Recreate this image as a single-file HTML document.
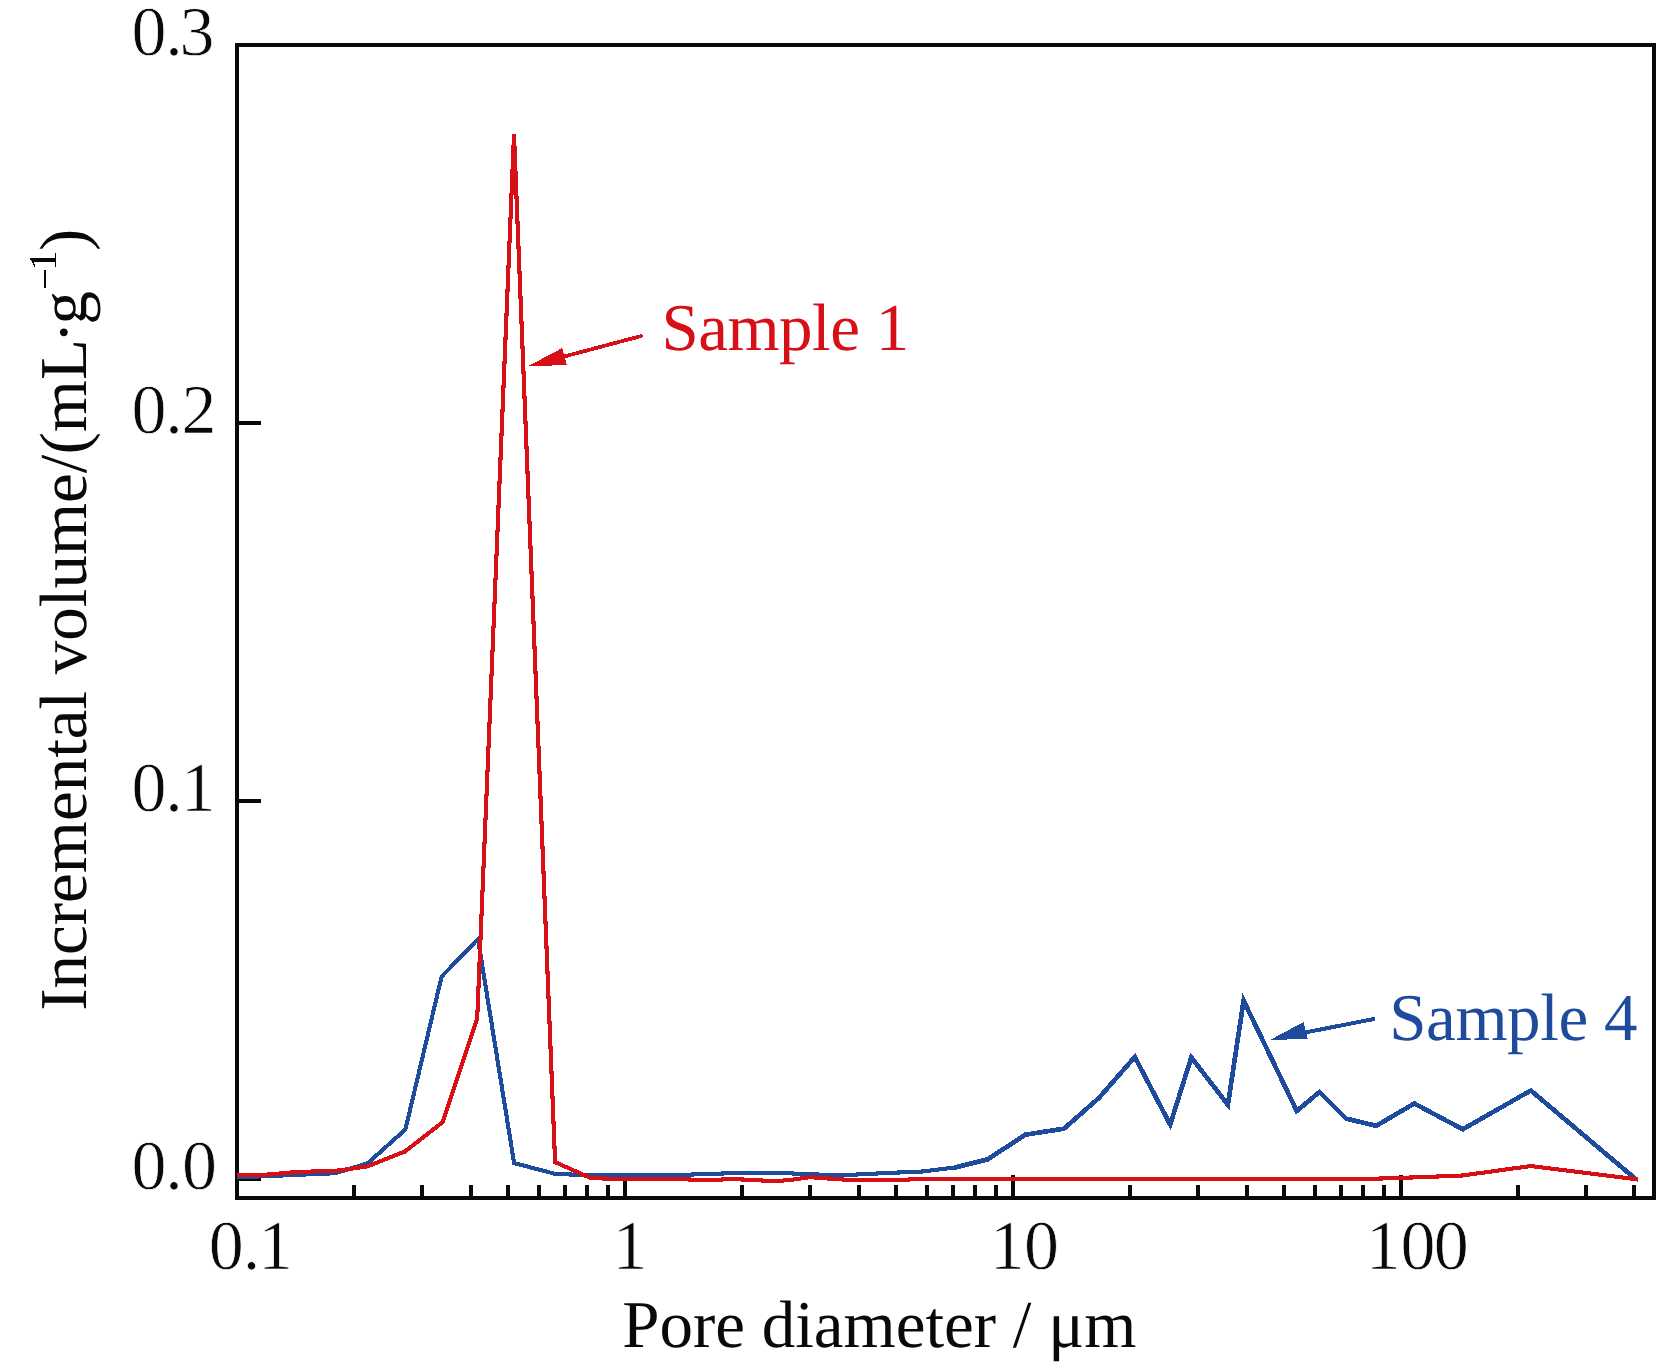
<!DOCTYPE html>
<html>
<head>
<meta charset="utf-8">
<title>Pore diameter distribution</title>
<style>
  html, body { margin: 0; padding: 0; background: #ffffff; }
  body { width: 1657px; height: 1368px; overflow: hidden; }
  svg { display: block; }
  text { font-family: "Liberation Serif", serif; font-size: 67px; fill: #080a0a; text-rendering: geometricPrecision; }
  .num text { font-size: 70px; stroke: #ffffff; stroke-width: 0.7px; }
  .tick { stroke: #080a0a; stroke-width: 4; fill: none; }
  .red { stroke: #d71018; }
  .blue { stroke: #1f4b9c; }
  .curve { fill: none; stroke-width: 4.1; stroke-linejoin: miter; stroke-miterlimit: 12; stroke-linecap: butt; }
</style>
</head>
<body>
<svg width="1657" height="1368" viewBox="0 0 1657 1368" shape-rendering="crispEdges">
  <rect x="0" y="0" width="1657" height="1368" fill="#ffffff"/>

  <!-- y-axis major ticks -->
  <g class="tick">
    <line x1="237" y1="423" x2="261" y2="423"/>
    <line x1="237" y1="801" x2="261" y2="801"/>
    <line x1="237" y1="1179" x2="261" y2="1179"/>
  </g>

  <!-- x-axis ticks (log scale) -->
  <g class="tick" id="xticks">
    <path d="M354 1185V1198 M422 1185V1198 M471 1185V1198 M508 1185V1198 M539 1185V1198 M565 1185V1198 M587 1185V1198 M608 1185V1198 M742 1185V1198 M810 1185V1198 M859 1185V1198 M896 1185V1198 M927 1185V1198 M953 1185V1198 M975 1185V1198 M996 1185V1198 M1130 1185V1198 M1198 1185V1198 M1247 1185V1198 M1284 1185V1198 M1315 1185V1198 M1341 1185V1198 M1363 1185V1198 M1384 1185V1198 M1518 1185V1198 M1586 1185V1198 M1634 1185V1198 M625 1175V1198 M1013 1175V1198 M1401 1175V1198"/>
  </g>

  <!-- frame -->
  <rect x="237" y="45" width="1417" height="1153" fill="none" stroke="#080a0a" stroke-width="4"/>

  <!-- Sample 4 (blue) -->
  <polyline class="curve blue" points="237,1177.4 335.5,1173.2 367.6,1163.3 405.4,1129.5 441.6,976.6 478,939 514.1,1163.1 555.7,1174 570.4,1174.5 585,1175 678,1175 740,1172.9 780,1172.9 806,1174.1 841,1175.3 887,1173 923,1171.5 955,1167.5 987.8,1159.3"/>
  <polyline class="curve blue" style="stroke-width:4.7" points="955,1167.5 987.8,1159.3 1025.3,1134.7 1064,1128.7 1099,1097.9 1134.8,1057 1170.2,1124.6 1191.3,1057.4 1227.9,1104.8 1243.6,1000.6 1296.8,1111 1319.4,1092 1346,1118.6 1376.3,1125.8 1414.3,1103.5 1462.8,1129.3 1530.8,1090.5 1636.3,1179.6"/>

  <!-- Sample 1 (red) -->
  <polyline class="curve red" points="237,1175 262,1175 291,1172.5 312,1171.5 339.2,1170.5 367.6,1166.3 404.8,1151.6 442.8,1122.1 477.2,1018.9 514,134.5 555.1,1162.1 589.5,1177.6 602.5,1178.5 625,1179 675,1179.1 710,1180.1 732.8,1179 752,1180 775,1181.2 790,1180 812.4,1176.9 816,1177.8 828,1178.5 843,1179.5 850,1180 905,1180 909,1179.5 915,1179 1360,1179 1381.4,1178.5 1411.4,1177.5 1437.6,1176.5 1462.5,1175.5 1530.9,1166 1638,1179.5"/>

  <!-- Sample 1 arrow -->
  <line x1="641" y1="336.1" x2="560" y2="357.6" stroke="#d71018" stroke-width="3.8" stroke-linecap="round"/>
  <polygon points="528.3,366 562.3,348 566.9,365.2" fill="#d71018"/>

  <!-- Sample 4 arrow -->
  <line x1="1375" y1="1018.8" x2="1300" y2="1033.5" stroke="#1f4b9c" stroke-width="4"/>
  <polygon points="1270.2,1039.9 1303.5,1022 1307.9,1039" fill="#1f4b9c"/>

  <!-- y tick labels -->
  <g class="num">
    <text x="131.4 165.3 179.5" y="55.3">0.3</text>
    <text x="131.4 165.3 181.4" y="433.1">0.2</text>
    <text x="131.4 165.3 180.8" y="811.1">0.1</text>
    <text x="131.4 165.3 181.9" y="1189.1">0.0</text>
  </g>

  <!-- x tick labels -->
  <g class="num">
    <text x="208.8 242.7 258" y="1269.2">0.1</text>
    <text x="612.6" y="1269.2">1</text>
    <text x="989.7 1023.9" y="1269.2">10</text>
    <text x="1365.7 1400.6 1433.8" y="1269.2">100</text>
  </g>

  <!-- axis titles -->
  <text id="xtitle" class="lbl" x="622.2" y="1347">Pore diameter / μm</text>
  <g transform="translate(85.5 1010.8) rotate(-90)">
    <text id="ytitle" class="lbl" x="0" y="0">Incremental volume/(mL<tspan dx="-4.3">·</tspan><tspan dx="-3.2">g</tspan></text>
    <path transform="translate(720.42 -27.5) scale(0.019043 -0.019043)" d="M1055 731V629H102V731Z" fill="#080a0a"/>
    <path transform="translate(740.62 -29.5) scale(0.019043 -0.019043)" d="M627 80 901 53V0H180V53L455 80V1174L184 1077V1130L575 1352H627Z" fill="#080a0a"/>
    <text class="lbl" x="759.92" y="0">)</text>
  </g>

  <!-- series labels -->
  <text id="s1" class="lbl" x="661.5" y="350.2" style="fill:#d71018" letter-spacing="-0.5">Sample 1</text>
  <text id="s4" class="lbl" x="1389.2" y="1039.8" style="fill:#1f4b9c" letter-spacing="-0.4">Sample 4</text>
</svg>
</body>
</html>
